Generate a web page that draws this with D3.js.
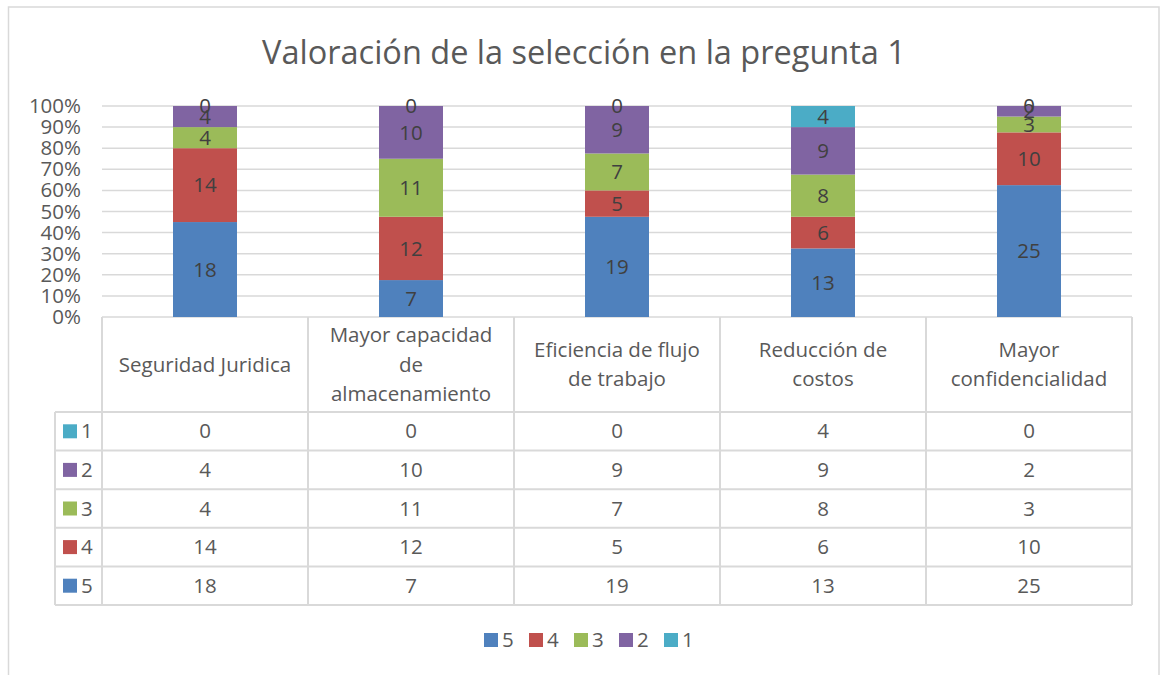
<!DOCTYPE html>
<html><head><meta charset="utf-8">
<script src="https://cdn.jsdelivr.net/npm/d3@7"></script>
<style>
html,body{margin:0;padding:0;background:#fff;}
svg{display:block;}
text{font-family:"Open Sans","Lato",sans-serif;}
</style></head>
<body>
<svg id="chart" width="1160" height="675"></svg>
<script>
const title = "Valoración de la selección en la pregunta 1";
const categories = ["Seguridad Juridica","Mayor capacidad de almacenamiento","Eficiencia de flujo de trabajo","Reducción de costos","Mayor confidencialidad"];
const categoryLines = [["Seguridad Juridica"],["Mayor capacidad","de","almacenamiento"],["Eficiencia de flujo","de trabajo"],["Reducción de","costos"],["Mayor","confidencialidad"]];
const seriesNames = ["5","4","3","2","1"];
const s5 = [18,7,19,13,25];
const s4 = [14,12,5,6,10];
const s3 = [4,11,7,8,3];
const s2 = [4,10,9,9,2];
const s1 = [0,0,0,4,0];
const seriesColors = ["#4F81BD","#C0504D","#9BBB59","#8064A2","#4BACC6"];
const yTicks = [0,0.1,0.2,0.3,0.4,0.5,0.6,0.7,0.8,0.9,1];

(function(){
const seriesValues = [s5,s4,s3,s2,s1];
const rows = categories.map((c,i)=>{const r={cat:c}; seriesNames.forEach((s,k)=>r[s]=seriesValues[k][i]); return r;});
const stacked = d3.stack().keys(seriesNames).offset(d3.stackOffsetExpand)(rows);

const svg = d3.select("#chart");
const grid = "#d9d9d9";
const textCol = "#595959";
const fs = 20.5;

// frame
svg.append("rect").attr("x",8.5).attr("y",7).attr("width",1150.5).attr("height",700)
  .attr("fill","#fff").attr("stroke",grid).attr("stroke-width",1.5);

svg.append("text").attr("x",584).attr("y",64).attr("text-anchor","middle")
  .attr("font-size",32.5).attr("fill",textCol).text(title);

const pL=102, pR=1132, pT=106, pB=317;
const x = d3.scaleBand().domain(categories).range([pL,pR]).paddingInner(0).paddingOuter(0);
const y = d3.scaleLinear().domain([0,1]).range([pB,pT]);
const barW = 64;

// gridlines
svg.append("g").selectAll("line").data(yTicks).join("line")
  .attr("x1",pL).attr("x2",pR).attr("y1",d=>y(d)).attr("y2",d=>y(d))
  .attr("stroke",grid).attr("stroke-width",1.5);

// y axis
const yAxis = d3.axisLeft(y).tickValues(yTicks).tickFormat(d3.format(".0%")).tickSize(0).tickPadding(0);
const ga = svg.append("g").attr("transform",`translate(${pL-21},0)`).call(yAxis);
ga.select(".domain").remove();
ga.selectAll("text").attr("font-size",fs).attr("fill",textCol).attr("font-family","Open Sans, Lato, sans-serif");

// bars
const gBars = svg.append("g");
stacked.forEach((layer,k)=>{
  gBars.append("g").selectAll("rect").data(layer).join("rect")
    .attr("x",d=>x(d.data.cat)+x.bandwidth()/2-barW/2)
    .attr("width",barW)
    .attr("y",d=>y(d[1]))
    .attr("height",d=>Math.max(0,y(d[0])-y(d[1])))
    .attr("fill",seriesColors[k]);
});
stacked.forEach((layer,k)=>{
  gBars.append("g").selectAll("text").data(layer).join("text")
    .attr("x",d=>x(d.data.cat)+x.bandwidth()/2)
    .attr("y",d=>(y(d[0])+y(d[1]))/2)
    .attr("dy","0.35em")
    .attr("text-anchor","middle").attr("font-size",fs).attr("fill","#404040")
    .text(d=>d.data[layer.key]);
});

// data table
const headerTop = pB, headerBot = 412, rowH = 38.6;
const tableRows = seriesNames.slice().reverse(); // 1..5
const tableLeft = 55;
const tableBottom = headerBot + rowH*tableRows.length;
const yRow = d3.scaleBand().domain(tableRows).range([headerBot,tableBottom]);
const t = svg.append("g");
const lineAttr = s=>s.attr("stroke",grid).attr("stroke-width",2);
x.domain().concat([null]).forEach((c,i)=>{
  const xx = c===null ? pR : x(c);
  lineAttr(t.append("line").attr("x1",xx).attr("x2",xx).attr("y1",headerTop).attr("y2",tableBottom));
});
lineAttr(t.append("line").attr("x1",tableLeft).attr("x2",tableLeft).attr("y1",headerBot).attr("y2",tableBottom));
[headerBot].concat(tableRows.map(r=>yRow(r)+rowH)).forEach(yy=>{
  lineAttr(t.append("line").attr("x1",tableLeft).attr("x2",pR).attr("y1",yy).attr("y2",yy));
});
categories.forEach((c,i)=>{
  const lines = categoryLines[i];
  const cy = (headerTop+headerBot)/2;
  const lh = 29.5;
  lines.forEach((ln,j)=>{
    t.append("text").attr("x",x(c)+x.bandwidth()/2)
      .attr("y",cy + (j-(lines.length-1)/2)*lh).attr("dy","0.35em")
      .attr("text-anchor","middle").attr("font-size",fs).attr("fill",textCol).text(ln);
  });
});
tableRows.forEach(r=>{
  const k = seriesNames.indexOf(r);
  const cy = yRow(r)+rowH/2;
  t.append("rect").attr("x",63).attr("y",cy-7).attr("width",14).attr("height",14).attr("fill",seriesColors[k]);
  t.append("text").attr("x",81).attr("y",cy).attr("dy","0.35em").attr("font-size",fs).attr("fill",textCol).text(r);
  categories.forEach((c,i)=>{
    t.append("text").attr("x",x(c)+x.bandwidth()/2).attr("y",cy).attr("dy","0.35em")
      .attr("text-anchor","middle").attr("font-size",fs).attr("fill",textCol).text(seriesValues[k][i]);
  });
});

// legend
const lg = svg.append("g");
const legX = d3.scaleBand().domain(seriesNames).range([484,484+45*seriesNames.length]);
seriesNames.forEach((s,k)=>{
  lg.append("rect").attr("x",legX(s)).attr("y",633).attr("width",14).attr("height",14).attr("fill",seriesColors[k]);
  lg.append("text").attr("x",legX(s)+18).attr("y",640).attr("dy","0.35em").attr("font-size",fs).attr("fill",textCol).text(s);
});
})();
</script>
</body></html>
